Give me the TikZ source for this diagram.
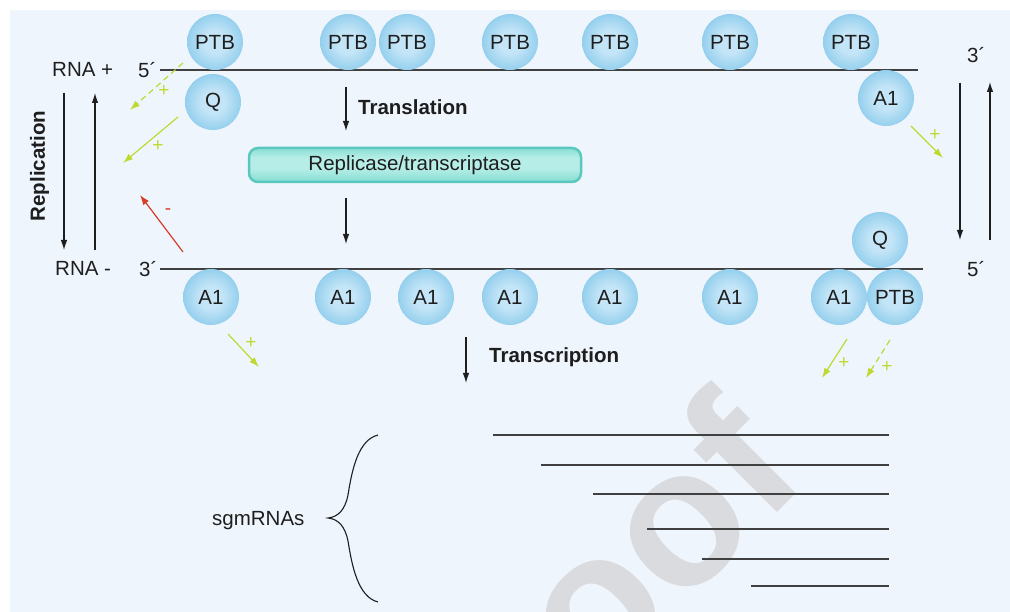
\documentclass[tikz,border=0pt]{standalone}
\usepackage{fontspec}
\setmainfont{Liberation Sans}
\usetikzlibrary{arrows.meta}

\definecolor{panel}{RGB}{239,245,253}
\definecolor{bubin}{RGB}{196,229,247}
\definecolor{bubmid}{RGB}{152,209,238}
\definecolor{bubout}{RGB}{108,184,226}
\definecolor{tealin}{RGB}{182,238,231}
\definecolor{tealmid}{RGB}{124,218,207}
\definecolor{tealout}{RGB}{62,190,178}
\definecolor{plusgreen}{RGB}{190,218,50}
\definecolor{minusred}{RGB}{212,62,38}
\definecolor{ink}{RGB}{30,30,30}
\definecolor{stamp}{RGB}{218,219,223}

\pgfdeclareradialshading{bubble}{\pgfpoint{0bp}{0bp}}{%
  color(0bp)=(bubin); color(10bp)=(bubin); color(24bp)=(bubmid);
  color(34bp)=(bubout); color(50bp)=(bubout)}
\pgfdeclareverticalshading{tealbar}{100bp}{%
  color(0bp)=(tealout); color(22bp)=(tealmid); color(45bp)=(tealin);
  color(60bp)=(tealin); color(80bp)=(tealmid); color(100bp)=(tealout)}

\newcommand\lblfont{\fontsize{20.5}{24}\selectfont}

\tikzset{
  bead/.style={circle, minimum size=56pt, inner sep=0pt, shading=bubble,
    font=\lblfont, text=ink},
  lbl/.style={inner sep=0pt, font=\lblfont, text=ink, anchor=base west},
  strand/.style={line width=1.3pt, draw=ink!85},
  arr/.style={-{Latex[length=10pt,width=6.5pt]}, line width=1.1pt, draw=ink},
  upreg/.style={-{Latex[length=10pt,width=7pt]}, line width=1.2pt, draw=plusgreen},
  upregdash/.style={upreg, dash pattern=on 6pt off 4pt},
  downreg/.style={-{Latex[length=10pt,width=7pt]}, line width=1.2pt, draw=minusred},
  sign/.style={inner sep=0pt, font=\fontsize{19}{22}\selectfont},
  sgline/.style={line width=1.3pt, draw=ink!85},
}

\begin{document}
\begin{tikzpicture}[x=1pt, y=-1pt]
\useasboundingbox (0,0) rectangle (1010,612);
\fill[white] (0,0) rectangle (1010,612);
\fill[panel] (10,10) rectangle (1010,612);

% faint stamp across the lower part
\begin{scope}
  \clip (10,10) rectangle (1010,612);
  \node[rotate=45, anchor=base, inner sep=0pt, text=stamp,
        font=\fontsize{195}{200}\selectfont\bfseries] (stamp) at (630,660) {Proof};
\end{scope}

% RNA strands
\coordinate (pl) at (160,70);  \coordinate (pr) at (918,70);
\coordinate (ml) at (160,269); \coordinate (mr) at (923,269);
\draw[strand] (pl) -- (pr);
\draw[strand] (ml) -- (mr);

% proteins on the plus strand
\node[bead] (t1) at (215,42) {PTB};
\node[bead] (t2) at (348,42) {PTB};
\node[bead] (t3) at (407,42) {PTB};
\node[bead] (t4) at (510,42) {PTB};
\node[bead] (t5) at (610,42) {PTB};
\node[bead] (t6) at (730,42) {PTB};
\node[bead] (t7) at (851,42) {PTB};
\node[bead] (q1) at (213,102) {Q};
\node[bead] (a0) at (886,98) {A1};

% proteins on the minus strand
\node[bead] (b1) at (211,297) {A1};
\node[bead] (b2) at (343,297) {A1};
\node[bead] (b3) at (426,297) {A1};
\node[bead] (b4) at (510,297) {A1};
\node[bead] (b5) at (610,297) {A1};
\node[bead] (b6) at (730,297) {A1};
\node[bead] (b7) at (839,297) {A1};
\node[bead] (b8) at (895,297) {PTB};
\node[bead] (q2) at (880,240) {Q};

% strand labels
\node[lbl] (rnap) at (52,77) {RNA +};
\node[lbl] (rnam) at (55,276) {RNA -};
\node[lbl] (e5l) at (138,78) {5´};
\node[lbl] (e3l) at (139,277) {3´};
\node[lbl] (e3r) at (967,63) {3´};
\node[lbl] (e5r) at (967,277) {5´};
\node[inner sep=0pt, font=\lblfont\bfseries, text=ink, rotate=90, anchor=base]
  (repl) at (45,166) {Replication};

% replication arrows
\coordinate (l1a) at (64,93);  \coordinate (l1b) at (64,250);
\coordinate (l2a) at (95,250); \coordinate (l2b) at (95,93);
\coordinate (r1a) at (960,83); \coordinate (r1b) at (960,240);
\coordinate (r2a) at (990,240); \coordinate (r2b) at (990,82);
\draw[arr] (l1a) -- (l1b);
\draw[arr] (l2a) -- (l2b);
\draw[arr] (r1a) -- (r1b);
\draw[arr] (r2a) -- (r2b);

% translation and transcription
\node[rounded corners=9pt, minimum width=332pt, minimum height=34pt, inner sep=0pt,
      shading=tealbar, draw=tealout!85, line width=2.5pt, font=\lblfont, text=ink]
  (rep) at (415,165) {Replicase/transcriptase};
\coordinate (tr1) at (346,87);  \coordinate (tr2) at (346,131);
\coordinate (tr3) at (346,198); \coordinate (tr4) at (346,244);
\coordinate (tc1) at (466,337); \coordinate (tc2) at (466,383);
\draw[arr] (tr1) -- (tr2);
\draw[arr] (tr3) -- (tr4);
\draw[arr] (tc1) -- (tc2);
\node[lbl, font=\lblfont\bfseries] (transl) at (358,115) {Translation};
\node[lbl, font=\lblfont\bfseries] (transc) at (489,363) {Transcription};

% regulatory effects
\coordinate (g1a) at (183,63);  \coordinate (g1b) at (130,110);
\coordinate (g2a) at (178,117); \coordinate (g2b) at (123,163);
\coordinate (n1a) at (183,252); \coordinate (n1b) at (140,195);
\coordinate (g3a) at (911,126); \coordinate (g3b) at (943,158);
\coordinate (g4a) at (228,334); \coordinate (g4b) at (259,367);
\coordinate (g5a) at (847,339); \coordinate (g5b) at (822,378);
\coordinate (g6a) at (890,340); \coordinate (g6b) at (866,378);
\draw[upregdash] (g1a) -- (g1b);
\draw[upreg] (g2a) -- (g2b);
\draw[downreg] (n1a) -- (n1b);
\draw[upreg] (g3a) -- (g3b);
\draw[upreg] (g4a) -- (g4b);
\draw[upreg] (g5a) -- (g5b);
\draw[upregdash] (g6a) -- (g6b);
\node[sign, text=plusgreen] (s1) at (164,91) {+};
\node[sign, text=plusgreen] (s2) at (158,146) {+};
\node[sign, text=minusred] (s3) at (168,212) {-};
\node[sign, text=plusgreen] (s4) at (935,135) {+};
\node[sign, text=plusgreen] (s5) at (251,343) {+};
\node[sign, text=plusgreen] (s6) at (844,363) {+};
\node[sign, text=plusgreen] (s7) at (887,367) {+};

% subgenomic mRNAs
\foreach \xl/\yy [count=\i] in {493/435, 541/465, 593/494, 647/529, 702/559, 751/586} {
  \coordinate (sgl\i) at (\xl,\yy);
  \coordinate (sgr\i) at (889,\yy);
  \draw[sgline] (sgl\i) -- (sgr\i);
}
\coordinate (brt) at (378,435);
\coordinate (brm) at (328,518);
\coordinate (brb) at (378,602);
\draw[line width=1.1pt, draw=ink]
  (brt) .. controls (358,440) and (352,470) .. (348,495)
        .. controls (345,510) and (338,517) .. (brm)
        .. controls (338,519) and (345,526) .. (348,541)
        .. controls (352,566) and (358,597) .. (brb);
\node[lbl] (sgm) at (212,525) {sgmRNAs};
\end{tikzpicture}
\end{document}
